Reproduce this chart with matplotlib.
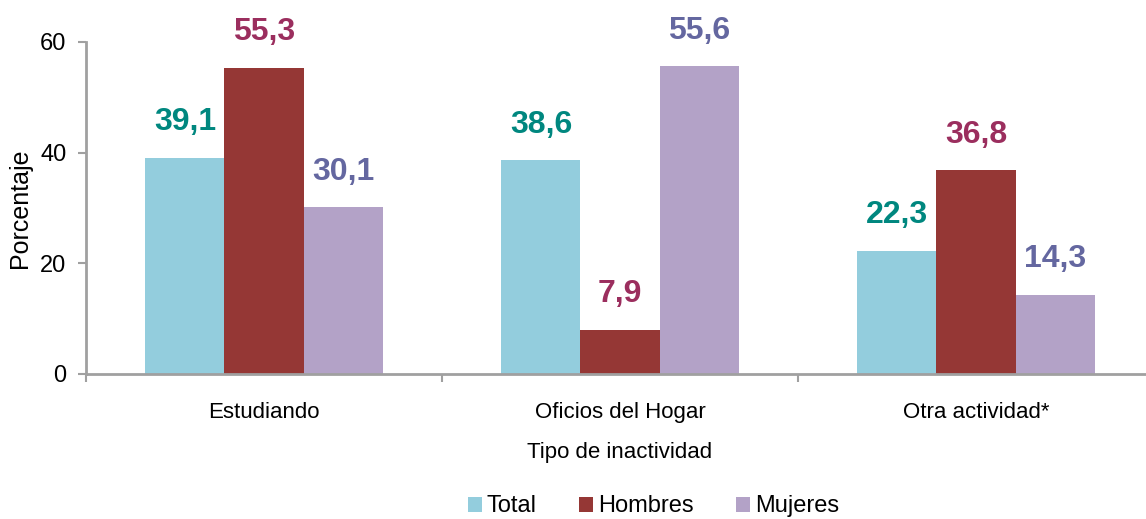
import numpy as np
import matplotlib.pyplot as plt
from matplotlib import font_manager

names = {f.name for f in font_manager.fontManager.ttflist}
narrow = 'Liberation Sans Narrow' if 'Liberation Sans Narrow' in names else 'Liberation Sans'
plt.rcParams['font.family'] = [narrow, 'DejaVu Sans']

categories = ['Estudiando', 'Oficios del Hogar', 'Otra actividad*']
series = ['Total', 'Hombres', 'Mujeres']
total = [39.1, 38.6, 22.3]
hombres = [55.3, 7.9, 36.8]
mujeres = [30.1, 55.6, 14.3]
yticks = [0, 20, 40, 60]

bar_colors = ['#93CDDD', '#953735', '#B3A2C7']
label_colors = ['#00877F', '#9B2E5E', '#6467A0']
grey = '#A0A0A0'

fig = plt.figure(figsize=(11.46, 5.19), dpi=100)
ax = fig.add_axes([86 / 1146, 145 / 519, 1068 / 1146, 332 / 519])

x = np.arange(len(categories))
w = 0.222
for i, (name, vals) in enumerate(zip(series, [total, hombres, mujeres])):
    pos = x + (i - 1) * w
    ax.bar(pos, vals, w, color=bar_colors[i], label=name, zorder=2)
    for p, v in zip(pos, vals):
        ax.annotate(f'{v:.1f}'.replace('.', ','), (p, v), xytext=(0, 15),
                    textcoords='offset points', ha='center', va='bottom',
                    fontsize=23, fontweight='bold', color=label_colors[i])

ax.set_xlim(-0.5, 2.5)
ax.set_ylim(0, 60)
ax.set_yticks(yticks)
ax.set_xticks(x)
ax.set_xticklabels(categories, fontsize=16)
ax.set_xticks([-0.5, 0.5, 1.5, 2.5], minor=True)
ax.tick_params(axis='x', which='major', length=0, pad=20)
ax.tick_params(axis='x', which='minor', length=6, width=1.5, color=grey, direction='out')
ax.tick_params(axis='y', labelsize=17, length=6, width=1.5, color=grey, pad=8)

for s in ['top', 'right']:
    ax.spines[s].set_visible(False)
for s in ['left', 'bottom']:
    ax.spines[s].set_color(grey)
    ax.spines[s].set_linewidth(2)

ax.set_xlabel('Tipo de inactividad', fontsize=16, labelpad=14)
ax.set_ylabel('Porcentaje', fontsize=18, labelpad=6)

fig.legend(loc='lower center', bbox_to_anchor=(0.57, -0.038), ncol=3, frameon=False,
           fontsize=17, handlelength=0.6, handleheight=0.6, handletextpad=0.2,
           columnspacing=1.8)

fig.savefig('out.png', dpi=100)
